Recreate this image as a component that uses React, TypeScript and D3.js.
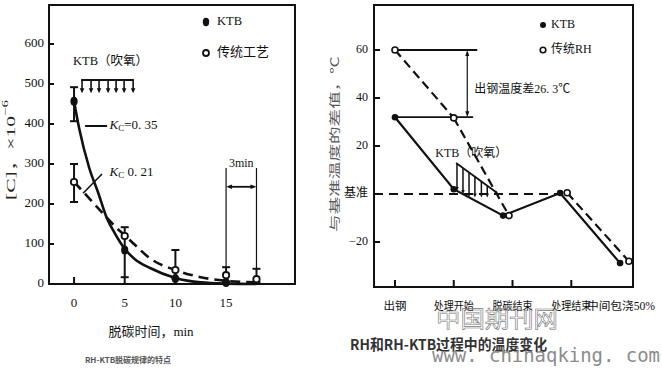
import React from "react";
import * as d3 from "d3";

// ---------- Left chart data ----------
const leftXTicks = [0, 5, 10, 15];
const leftYTicks = [0, 100, 200, 300, 400, 500, 600];
const ktbPointT = [0, 5, 10, 15];
const ktbPointC = [457, 85, 14, 4];
const tradPointT = [0, 5, 10, 15, 18];
const tradPointC = [255, 120, 35, 22, 12];
const errT = [0, 0, 5, 10, 15, 18];
const errLo = [407, 205, 17, 14, 6, 4];
const errHi = [492, 300, 142, 85, 42, 38];
const ktbCurveT = [0, 0.5, 1.5, 2.4, 3.2, 4, 5, 6, 7.5, 10, 12.5, 15, 18];
const ktbCurveC = [457, 390, 290, 227, 167, 128, 88, 62, 40, 15, 4, 1, 0];
const tradCurveT = [0, 1, 2, 3.2, 4, 5, 6, 7.5, 10, 12.5, 15, 18];
const tradCurveC = [255, 228, 200, 167, 145, 122, 98, 64, 35, 17, 8, 4];
const blowArrowT = [0.79, 1.68, 2.47, 3.36, 4.15, 4.94, 5.83];

// ---------- Right chart data ----------
const stageLabels = ["出钢", "处理开始", "脱碳结束", "处理结束", "中间包浇50%"];
const stageTicks = [0, 1, 2, 3];
const rightYTicks = [60, 40, 20, 0, -20];
const rightYTickLabels = ["60", "40", "20", "基准", "−20"];
const ktbStage = [0, 1, 1.84, 2.81, 3.83];
const ktbTemp = [32, 2, -9, 0.4, -28.8];
const rhStage = [0, 1, 1.94, 2.93, 3.98];
const rhTemp = [60, 31.7, -9, 0.5, -28];
const hatchStage = [1.055, 1.157, 1.26, 1.36, 1.47, 1.57];

const SERIF = "'Liberation Serif', 'Noto Sans CJK SC', serif";
const SANS = "'Noto Sans CJK SC', 'Noto Sans', sans-serif";

function arrow(x: number, y: number, dir: string, s = 4, w = 2.2) {
  if (dir === "down") return `M${x},${y} L${x - w},${y - s} L${x + w},${y - s} Z`;
  if (dir === "up") return `M${x},${y} L${x - w},${y + s} L${x + w},${y + s} Z`;
  if (dir === "left") return `M${x},${y} L${x + s},${y - w} L${x + s},${y + w} Z`;
  return `M${x},${y} L${x - s},${y - w} L${x - s},${y + w} Z`;
}

export default function App() {
  // Left scales
  const lx = d3.scaleLinear().domain([-2.47, 21.8]).range([49, 295]);
  const ly = d3.scaleLinear().domain([0, 700]).range([284, 4]);
  const lineL = d3
    .line<[number, number]>()
    .x((d) => lx(d[0]))
    .y((d) => ly(d[1]))
    .curve(d3.curveMonotoneX);
  const ktbCurve = lineL(ktbCurveT.map((t, i) => [t, ktbCurveC[i]]));
  const tradCurve = lineL(tradCurveT.map((t, i) => [t, tradCurveC[i]]));

  // Right scales
  const rx = d3.scaleLinear().domain([-0.357, 4.05]).range([374, 633]);
  const ry = d3.scaleLinear().domain([-38.75, 78.75]).range([287, 5]);
  const lineR = d3
    .line<[number, number]>()
    .x((d) => rx(d[0]))
    .y((d) => ry(d[1]));
  const ktbPath = lineR(ktbStage.map((s, i) => [s, ktbTemp[i]]));
  const rhSegs = [0, 1, 3].map((i) =>
    lineR([
      [rhStage[i], rhTemp[i]],
      [rhStage[i + 1], rhTemp[i + 1]],
    ])
  );
  const hatchTop = d3.scaleLinear().domain([1.04, 1.74]).range([12.9, 0.4]);
  const ktbSeg = d3.scaleLinear().domain([ktbStage[1], ktbStage[2]]).range([ktbTemp[1], ktbTemp[2]]);

  const tickFont = { fontFamily: SERIF, fontSize: 13, fill: "#111" };

  return (
    <svg
      width={662}
      height={370}
      style={{ position: "absolute", left: 0, top: 0, background: "#fff" }}
    >
      <rect x={0} y={0} width={662} height={370} fill="#fff" />

      {/* ================= LEFT CHART ================= */}
      <rect x={49} y={5} width={246} height={279} fill="none" stroke="#111" strokeWidth={2} />
      {leftYTicks.map((v) => (
        <g key={"ly" + v}>
          <line x1={49} x2={54} y1={ly(v)} y2={ly(v)} stroke="#111" strokeWidth={2} />
          <text x={44} y={ly(v)} textAnchor="end" dominantBaseline="middle" {...tickFont}>
            {v}
          </text>
        </g>
      ))}
      {leftXTicks.map((v) => (
        <g key={"lx" + v}>
          <line x1={lx(v)} x2={lx(v)} y1={284} y2={277} stroke="#111" strokeWidth={2} />
          <text x={lx(v)} y={304} textAnchor="middle" dominantBaseline="middle" {...tickFont}>
            {v}
          </text>
        </g>
      ))}
      <g opacity={0.99}>
        <text
          transform="translate(12,150) rotate(-90)"
          textAnchor="middle"
          dominantBaseline="middle"
          fontFamily={SERIF}
          fontSize={13}
          fill="#222"
          textLength={100}
          lengthAdjust="spacingAndGlyphs"
        >
          [C]，×10
          <tspan fontSize={9} dy={-6}>
            −6
          </tspan>
        </text>
      </g>
      <text x={151} y={333} textAnchor="middle" dominantBaseline="middle" fontFamily={SERIF} fontSize={13} fill="#111">
        脱碳时间，min
      </text>
      <text x={128} y={361} textAnchor="middle" dominantBaseline="middle" fontFamily={SANS} fontSize={8} fontWeight="bold" fill="#555">
        RH-KTB脱碳规律的特点
      </text>

      {/* curves */}
      <path d={ktbCurve || ""} fill="none" stroke="#111" strokeWidth={2.6} />
      <path d={tradCurve || ""} fill="none" stroke="#111" strokeWidth={2.6} strokeDasharray="10,6" />

      {/* error bars */}
      {errT.map((t, i) => (
        <g key={"eb" + i} stroke="#111" strokeWidth={2}>
          <line x1={lx(t)} x2={lx(t)} y1={ly(errLo[i])} y2={ly(errHi[i])} />
          <line x1={lx(t) - 4} x2={lx(t) + 4} y1={ly(errLo[i])} y2={ly(errLo[i])} />
          <line x1={lx(t) - 4} x2={lx(t) + 4} y1={ly(errHi[i])} y2={ly(errHi[i])} />
        </g>
      ))}

      {/* points */}
      {ktbPointT.map((t, i) => (
        <ellipse key={"kp" + i} cx={lx(t)} cy={ly(ktbPointC[i])} rx={3.6} ry={4.5} fill="#111" />
      ))}
      {tradPointT.map((t, i) => (
        <circle key={"tp" + i} cx={lx(t)} cy={ly(tradPointC[i])} r={3.2} fill="#fff" stroke="#111" strokeWidth={1.8} />
      ))}

      {/* KTB blowing bar */}
      <text x={lx(3.6)} y={62} textAnchor="middle" dominantBaseline="middle" fontFamily={SERIF} fontSize={12.5} fill="#111">
        KTB（吹氧）
      </text>
      <line x1={lx(0.7)} x2={lx(5.9)} y1={ly(510)} y2={ly(510)} stroke="#111" strokeWidth={2} />
      {blowArrowT.map((t, i) => (
        <g key={"ba" + i}>
          <line x1={lx(t)} x2={lx(t)} y1={ly(510)} y2={ly(485)} stroke="#111" strokeWidth={1.6} />
          <path d={arrow(lx(t), ly(477), "down", 5, 2.3)} fill="#111" />
        </g>
      ))}

      {/* K labels */}
      <line x1={lx(1.09)} x2={lx(3.26)} y1={ly(395)} y2={ly(395)} stroke="#111" strokeWidth={2} />
      <text x={lx(3.5)} y={ly(395)} dominantBaseline="middle" fontFamily={SERIF} fontSize={13} fill="#111">
        <tspan fontStyle="italic">K</tspan>
        <tspan fontSize={9} dy={3}>C</tspan>
        <tspan dy={-3}>=0. 35</tspan>
      </text>
      <line x1={lx(0.89)} x2={lx(2.76)} y1={ly(227)} y2={ly(275)} stroke="#111" strokeWidth={1.6} />
      <text x={lx(3.5)} y={ly(277)} dominantBaseline="middle" fontFamily={SERIF} fontSize={13} fill="#111">
        <tspan fontStyle="italic">K</tspan>
        <tspan fontSize={9} dy={3}>C</tspan>
        <tspan dy={-3}>  0. 21</tspan>
      </text>

      {/* 3min bracket */}
      <line x1={lx(15)} x2={lx(15)} y1={ly(290)} y2={ly(42)} stroke="#111" strokeWidth={1.2} />
      <line x1={lx(18)} x2={lx(18)} y1={ly(290)} y2={ly(38)} stroke="#111" strokeWidth={1.2} />
      <line x1={lx(15) + 3} x2={lx(18) - 3} y1={ly(243)} y2={ly(243)} stroke="#111" strokeWidth={1.8} />
      <path d={arrow(lx(15), ly(243), "left", 6, 2.2)} fill="#111" />
      <path d={arrow(lx(18), ly(243), "right", 6, 2.2)} fill="#111" />
      <text x={lx(16.5)} y={ly(292)} textAnchor="middle" fontFamily={SERIF} fontSize={12} fill="#111">
        3min
      </text>

      {/* legend */}
      <ellipse cx={206} cy={22} rx={3.2} ry={4.2} fill="#111" />
      <text x={217} y={22} dominantBaseline="middle" fontFamily={SERIF} fontSize={12.5} fill="#111">
        KTB
      </text>
      <circle cx={206} cy={53} r={3} fill="#fff" stroke="#111" strokeWidth={1.8} />
      <text x={217} y={53} dominantBaseline="middle" fontFamily={SERIF} fontSize={13} fill="#111">
        传统工艺
      </text>

      {/* ================= RIGHT CHART ================= */}
      <rect x={374} y={5} width={259} height={282} fill="none" stroke="#111" strokeWidth={2} />
      {rightYTicks.map((v, i) => (
        <g key={"ry" + v}>
          <line x1={374} x2={380} y1={ry(v)} y2={ry(v)} stroke="#111" strokeWidth={2} />
          <text x={368} y={ry(v)} textAnchor="end" dominantBaseline="middle" fontFamily={SERIF} fontSize={12} fill="#111">
            {rightYTickLabels[i]}
          </text>
        </g>
      ))}
      {stageTicks.map((s) => (
        <line key={"rt" + s} x1={rx(s)} x2={rx(s)} y1={287} y2={280} stroke="#111" strokeWidth={2} />
      ))}
      {stageLabels.map((lab, i) => {
        const last = i === stageLabels.length - 1;
        const len = last ? 68 : lab.length >= 4 ? 40 : undefined;
        return (
          <text
            key={"rl" + i}
            x={last ? rx(i) + 25 : rx(i)}
            y={307}
            textAnchor={last ? "end" : "middle"}
            dominantBaseline="middle"
            fontFamily={SERIF}
            fontSize={11.5}
            fill="#111"
            textLength={len}
            lengthAdjust={len ? "spacingAndGlyphs" : undefined}
          >
            {lab}
          </text>
        );
      })}
      <g opacity={0.99}>
        <text
          transform="translate(336,144) rotate(-90) scale(1.6,1)"
          textAnchor="middle"
          dominantBaseline="middle"
          fontFamily={SERIF}
          fontSize={11}
          fill="#555"
        >
          与基准温度的差值，℃
        </text>
      </g>

      {/* baseline */}
      <line x1={374} x2={rx(rhStage[3])} y1={ry(0)} y2={ry(0)} stroke="#111" strokeWidth={2.2} strokeDasharray="9,6" />

      {/* reference lines */}
      <line x1={rx(0)} x2={rx(1.4)} y1={ry(60)} y2={ry(60)} stroke="#111" strokeWidth={1.8} />
      <line x1={rx(0)} x2={rx(1.33)} y1={ry(32)} y2={ry(32)} stroke="#111" strokeWidth={1.8} />
      <line x1={rx(1.23)} x2={rx(1.23)} y1={ry(60) + 4} y2={ry(32) - 4} stroke="#111" strokeWidth={1.2} />
      <path d={arrow(rx(1.23), ry(60), "up", 6, 2)} fill="#111" />
      <path d={arrow(rx(1.23), ry(32), "down", 6, 2)} fill="#111" />
      <text x={rx(1.35)} y={90} dominantBaseline="middle" fontFamily={SERIF} fontSize={12} fill="#111">
        出钢温度差26. 3℃
      </text>

      {/* series lines */}
      <path d={ktbPath || ""} fill="none" stroke="#111" strokeWidth={2.2} />
      {rhSegs.map((d, i) => (
        <path key={"rs" + i} d={d || ""} fill="none" stroke="#111" strokeWidth={2.2} strokeDasharray="9,5" />
      ))}

      {/* hatch: KTB blowing */}
      <text x={rx(1.3)} y={154} textAnchor="middle" dominantBaseline="middle" fontFamily={SERIF} fontSize={12} fill="#111">
        KTB（吹氧）
      </text>
      <line x1={rx(1.04)} x2={rx(1.74)} y1={ry(hatchTop(1.04))} y2={ry(hatchTop(1.74))} stroke="#111" strokeWidth={1.8} />
      {hatchStage.map((s, i) => {
        const bottom = Math.max(ktbSeg(s), -1.5);
        return (
          <g key={"h" + i}>
            <line x1={rx(s)} x2={rx(s)} y1={ry(hatchTop(s))} y2={ry(bottom) - 3} stroke="#111" strokeWidth={1.5} />
            <path d={arrow(rx(s), ry(bottom), "down", 4, 1.8)} fill="#111" />
          </g>
        );
      })}

      {/* points */}
      {ktbStage.map((s, i) => (
        <circle key={"kr" + i} cx={rx(s)} cy={ry(ktbTemp[i])} r={3.3} fill="#111" />
      ))}
      {rhStage.map((s, i) => (
        <circle key={"rr" + i} cx={rx(s)} cy={ry(rhTemp[i])} r={3} fill="#fff" stroke="#111" strokeWidth={1.6} />
      ))}

      {/* legend */}
      <circle cx={543} cy={25} r={3} fill="#111" />
      <text x={551} y={25} dominantBaseline="middle" fontFamily={SERIF} fontSize={12} fill="#111">
        KTB
      </text>
      <circle cx={543} cy={50} r={2.8} fill="#fff" stroke="#111" strokeWidth={1.6} />
      <text x={551} y={50} dominantBaseline="middle" fontFamily={SERIF} fontSize={12} fill="#111">
        传统RH
      </text>

      {/* caption + watermarks */}
      <g opacity={0.99}>
        <text x={436} y={327} fontFamily={SANS} fontSize={23} fill="none" stroke="#777" strokeWidth={0.6} textLength={122} lengthAdjust="spacingAndGlyphs">
          中国期刊网
        </text>
      </g>
      <text x={350} y={350} fontFamily={SANS} fontSize={14.5} fontWeight="bold" fill="#333" textLength={197} lengthAdjust="spacingAndGlyphs">
        RH和RH-KTB过程中的温度变化
      </text>
      <text x={432} y={362} fontFamily="'DejaVu Sans Mono', monospace" fontSize={19} fill="#8c8c8c" textLength={228} lengthAdjust="spacingAndGlyphs">
        www. chinaqking. com
      </text>
    </svg>
  );
}
